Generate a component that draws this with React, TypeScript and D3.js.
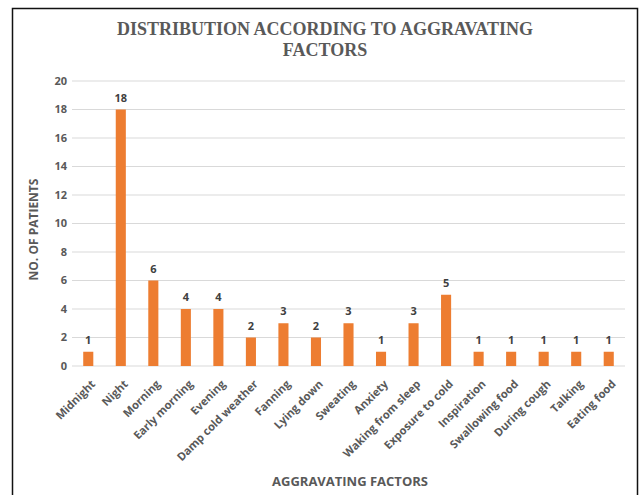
import React from "react";
import * as d3 from "d3";

const categories = [
  "Midnight", "Night", "Morning", "Early morning", "Evening", "Damp cold weather",
  "Fanning", "Lying down", "Sweating", "Anxiety", "Waking from sleep", "Exposure to cold",
  "Inspiration", "Swallowing food", "During cough", "Talking", "Eating food",
];
const patients = [1, 18, 6, 4, 4, 2, 3, 2, 3, 1, 3, 5, 1, 1, 1, 1, 1];
const yTicks = [0, 2, 4, 6, 8, 10, 12, 14, 16, 18, 20];

const W = 643;
const H = 495;
const plot = { left: 72, right: 625, top: 81, bottom: 366 };
const font = "'Open Sans', 'Noto Sans', sans-serif";
const gray = "#595959";

export default function App() {
  const x = d3.scaleBand<string>().domain(categories).range([plot.left, plot.right]).paddingInner(0.69).paddingOuter(0.345);
  const y = d3.scaleLinear().domain([0, 20]).range([plot.bottom, plot.top]);

  return (
    <svg width={W} height={H} style={{ position: "absolute", left: 0, top: 0, background: "#fff" }}>
      <rect x={0} y={0} width={W} height={H} fill="#fff" />
      <path d={`M12.5,${H} V8.5 H637.5 V${H}`} fill="none" stroke="#111" strokeWidth={1.5} />
      <text x={325} y={35} textAnchor="middle" fontFamily="'Liberation Serif', 'DejaVu Serif', serif" fontWeight="bold" fontSize={18} fill={gray}>
        DISTRIBUTION ACCORDING TO AGGRAVATING
      </text>
      <text x={325} y={56} textAnchor="middle" fontFamily="'Liberation Serif', 'DejaVu Serif', serif" fontWeight="bold" fontSize={18} fill={gray}>
        FACTORS
      </text>
      {yTicks.map((t) => (
        <g key={t}>
          <line x1={plot.left} x2={plot.right} y1={y(t)} y2={y(t)} stroke="#d9d9d9" strokeWidth={1} />
          <text x={67} y={y(t)} dy="0.35em" textAnchor="end" fontFamily={font} fontWeight="bold" fontSize={11} fill={gray}>
            {t}
          </text>
        </g>
      ))}
      {categories.map((c, i) => {
        const bx = x(c) as number;
        const cx = bx + x.bandwidth() / 2;
        return (
          <g key={c}>
            <rect x={bx} y={y(patients[i])} width={x.bandwidth()} height={y(0) - y(patients[i])} fill="#ED7D31" />
            <text x={cx} y={y(patients[i]) - 8} textAnchor="middle" fontFamily={font} fontWeight="bold" fontSize={11} fill="#404040">
              {patients[i]}
            </text>
            <text
              transform={`translate(${cx + 5},${plot.bottom + 16}) rotate(-45)`}
              textAnchor="end"
              dy="0.35em"
              fontFamily={font}
              fontWeight="bold"
              fontSize={11.2}
              fill={gray}
            >
              {c}
            </text>
          </g>
        );
      })}
      <text transform={`translate(38,${(plot.top + plot.bottom) / 2 + 6}) rotate(-90)`} textAnchor="middle" fontFamily={font} fontWeight="bold" fontSize={12} fill={gray}>
        NO. OF PATIENTS
      </text>
      <text x={350} y={486} textAnchor="middle" fontFamily={font} fontWeight="bold" fontSize={13} fill={gray}>
        AGGRAVATING FACTORS
      </text>
    </svg>
  );
}
